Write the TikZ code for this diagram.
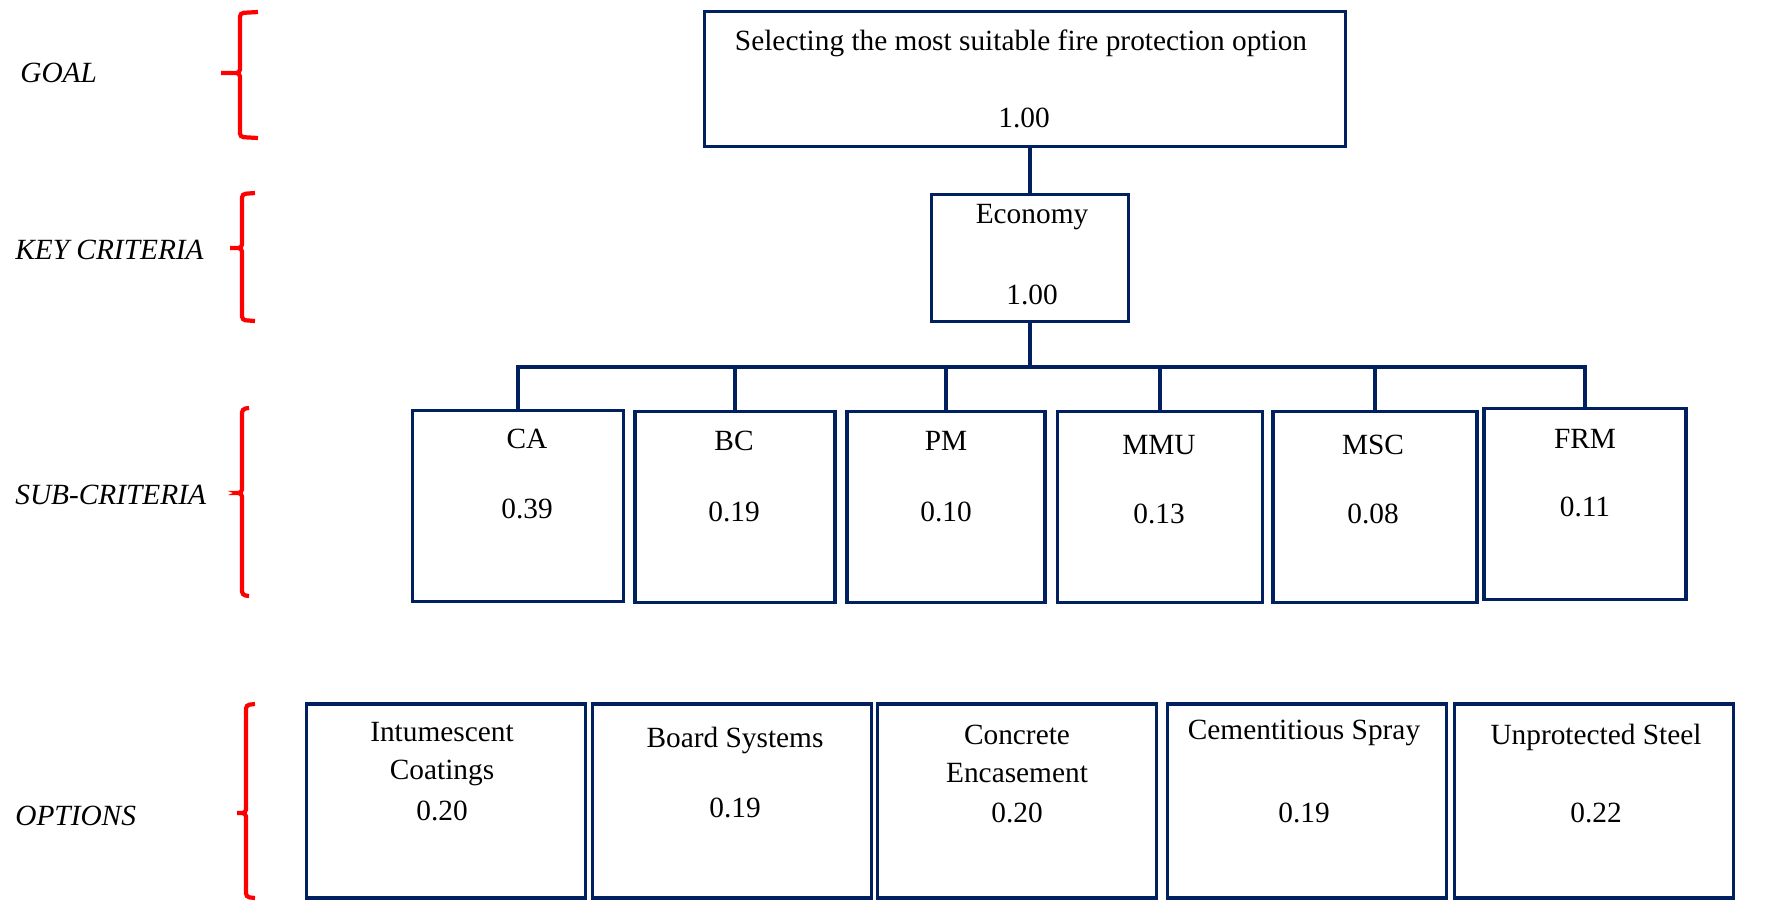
\documentclass[tikz,border=0pt]{standalone}
\usepackage{fontspec}
\setmainfont{Liberation Serif}
\usetikzlibrary{positioning}
\definecolor{boxblue}{RGB}{0,32,96}

\begin{document}
\begin{tikzpicture}[x=0.02cm, y=-0.02cm,
        every node/.style={font=\fontsize{16.7}{22}\selectfont},
        box/.style={draw=boxblue, line width=2.1pt, inner sep=0pt, outer sep=0pt},
        subbox/.style={box, minimum height=3.82cm},
        optbox/.style={box, minimum width=5.58cm, minimum height=3.88cm},
        txt/.style={inner sep=0pt, align=center},
        level/.style={font=\fontsize{16.7}{22}\selectfont\itshape,
                      anchor=west, inner sep=0pt},
        link/.style={draw=boxblue, line width=2.1pt},
        brace/.style={draw=red, line width=2.4pt, rounded corners=2pt}]
      \useasboundingbox (0,0) rectangle (1765,900);

      % levels on the left
      \node[level] (lgoal) at (20,73)  {GOAL};
      \node[level] (lkey)  at (15,250) {KEY CRITERIA};
      \node[level] (lsub)  at (15,495) {SUB-CRITERIA};
      \node[level] (lopt)  at (15,816) {OPTIONS};
      \draw[brace] (258,12) -- (240,13) -- (240,73) -- (219,73) -- (240,73) -- (240,137) -- (258,138);
      \draw[brace] (255,193) -- (242,194) -- (242,248) -- (228,248) -- (242,248) -- (242,320) -- (255,321);
      \draw[brace] (249,408) -- (242,409) -- (242,493) -- (235,493) -- (242,493) -- (242,595) -- (249,596);
      \draw[brace] (255,704) -- (246,705) -- (246,813) -- (235,813) -- (246,813) -- (246,897) -- (255,898);

      % goal and key criterion
      \node[box, minimum width=12.82cm, minimum height=2.70cm] (goal) at (1025,79) {};
      \node[txt] (goal-t) at (1021,43)  {Selecting the most suitable fire protection option};
      \node[txt] (goal-v) at (1024,118) {1.00};
      \node[box, minimum width=3.94cm, minimum height=2.54cm] (eco) at (1030,258) {};
      \node[txt] (eco-t) at (1032,217) {Economy};
      \node[txt] (eco-v) at (1032,295) {1.00};

      % sub-criteria
      \node[subbox, minimum width=4.22cm] (ca)  at (518,506)  {};
      \node[subbox, minimum width=4.00cm] (bc)  at (735,507)  {};
      \node[subbox, minimum width=3.96cm] (pm)  at (946,507)  {};
      \node[subbox, minimum width=4.10cm] (mmu) at (1160,507) {};
      \node[subbox, minimum width=4.08cm] (msc) at (1375,507) {};
      \node[subbox, minimum width=4.04cm] (frm) at (1585,504) {};
      \node[txt] (ca-t)  at (527,439)  {CA};
      \node[txt] (ca-v)  at (527,509)  {0.39};
      \node[txt] (bc-t)  at (734,441)  {BC};
      \node[txt] (bc-v)  at (734,512)  {0.19};
      \node[txt] (pm-t)  at (946,441)  {PM};
      \node[txt] (pm-v)  at (946,512)  {0.10};
      \node[txt] (mmu-t) at (1159,445) {MMU};
      \node[txt] (mmu-v) at (1159,514) {0.13};
      \node[txt] (msc-t) at (1373,445) {MSC};
      \node[txt] (msc-v) at (1373,514) {0.08};
      \node[txt] (frm-t) at (1585,439) {FRM};
      \node[txt] (frm-v) at (1585,507) {0.11};

      % tree lines
      \coordinate (bus) at (1030,367);
      \draw[link] (goal.south -| eco.north) -- (eco.north);
      \draw[link] (eco.south) -- (bus);
      \draw[link] (ca.north) |- (bus) -| (frm.north);
      \draw[link] (bc.north)  -- (bc.north |- bus);
      \draw[link] (pm.north)  -- (pm.north |- bus);
      \draw[link] (mmu.north) -- (mmu.north |- bus);
      \draw[link] (msc.north) -- (msc.north |- bus);

      % options
      \node[optbox] (int) at (446,801)  {};
      \node[optbox] (brd) at (732,801)  {};
      \node[optbox] (con) at (1017,801) {};
      \node[optbox] (cem) at (1307,801) {};
      \node[optbox] (uns) at (1594,801) {};
      \node[txt] (int-t) at (442,754)  {Intumescent\\Coatings};
      \node[txt] (int-v) at (442,811)  {0.20};
      \node[txt] (brd-t) at (735,740)  {Board Systems};
      \node[txt] (brd-v) at (735,808)  {0.19};
      \node[txt] (con-t) at (1017,754) {Concrete\\Encasement};
      \node[txt] (con-v) at (1017,813) {0.20};
      \node[txt] (cem-t) at (1304,733) {Cementitious Spray};
      \node[txt] (cem-v) at (1304,813) {0.19};
      \node[txt] (uns-t) at (1596,737) {Unprotected Steel};
      \node[txt] (uns-v) at (1596,813) {0.22};
    \end{tikzpicture}
\end{document}
